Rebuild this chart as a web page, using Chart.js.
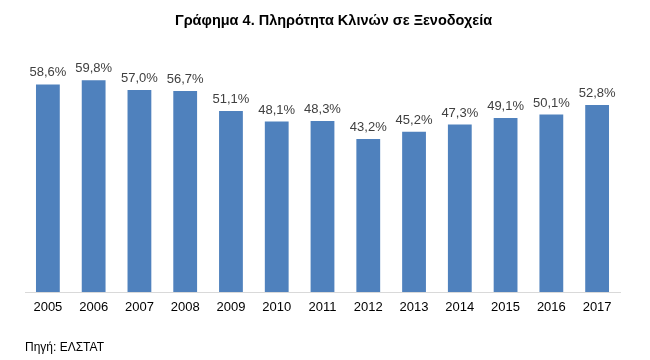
<!DOCTYPE html>
<html>
<head>
<meta charset="utf-8">
<script src="https://cdn.jsdelivr.net/npm/chart.js@4/dist/chart.umd.min.js"></script>
<style>
html,body{margin:0;padding:0;background:#fff;}
#wrap{width:650px;height:360px;}
</style>
</head>
<body>
<div id="wrap"><canvas id="c" width="650" height="360"></canvas></div>
<script>
const years = ["2005","2006","2007","2008","2009","2010","2011","2012","2013","2014","2015","2016","2017"];
const occupancy = [58.6,59.8,57.0,56.7,51.1,48.1,48.3,43.2,45.2,47.3,49.1,50.1,52.8];
const titleText = "Γράφημα 4. Πληρότητα Κλινών σε Ξενοδοχεία";
const sourceText = "Πηγή: ΕΛΣΤΑΤ";

const labelPlugin = {
  id: 'barLabels',
  afterDatasetsDraw(chart) {
    const ctx = chart.ctx;
    const meta = chart.getDatasetMeta(0);
    ctx.save();
    ctx.font = '13px "Liberation Sans", Arial, sans-serif';
    ctx.fillStyle = '#404040';
    ctx.textAlign = 'center';
    ctx.textBaseline = 'bottom';
    meta.data.forEach((bar, i) => {
      const v = chart.data.datasets[0].data[i];
      ctx.fillText(v.toFixed(1).replace('.', ',') + '%', bar.x, bar.y - 5);
    });
    // title, slightly right of centre as in the original
    ctx.font = 'bold 14.5px "Liberation Sans", Arial, sans-serif';
    ctx.fillStyle = '#000';
    ctx.textAlign = 'center';
    ctx.textBaseline = 'alphabetic';
    ctx.fillText(titleText, 333.5, 25);
    ctx.restore();
  }
};

new Chart(document.getElementById('c'), {
  type: 'bar',
  data: {
    labels: years,
    datasets: [{
      data: occupancy,
      backgroundColor: '#4F81BD',
      barPercentage: 0.52,
      categoryPercentage: 1.0
    }]
  },
  options: {
    responsive: false,
    animation: false,
    devicePixelRatio: 1,
    layout: { padding: { left: 25, right: 30, top: 44, bottom: 0 } },
    plugins: {
      legend: { display: false },
      tooltip: { enabled: false },
      title: { display: false },
      subtitle: {
        display: true,
        position: 'bottom',
        align: 'start',
        text: sourceText,
        color: '#000',
        font: { family: '"Liberation Sans", Arial, sans-serif', size: 12 },
        padding: { top: 17, bottom: 5 }
      }
    },
    scales: {
      x: {
        grid: { display: false, drawTicks: false },
        border: { display: true, color: '#d9d9d9', width: 1 },
        ticks: {
          color: '#000',
          padding: 8,
          font: { family: '"Liberation Sans", Arial, sans-serif', size: 13 }
        }
      },
      y: {
        display: false,
        min: 0,
        max: 70
      }
    }
  },
  plugins: [labelPlugin]
});
</script>
</body>
</html>
